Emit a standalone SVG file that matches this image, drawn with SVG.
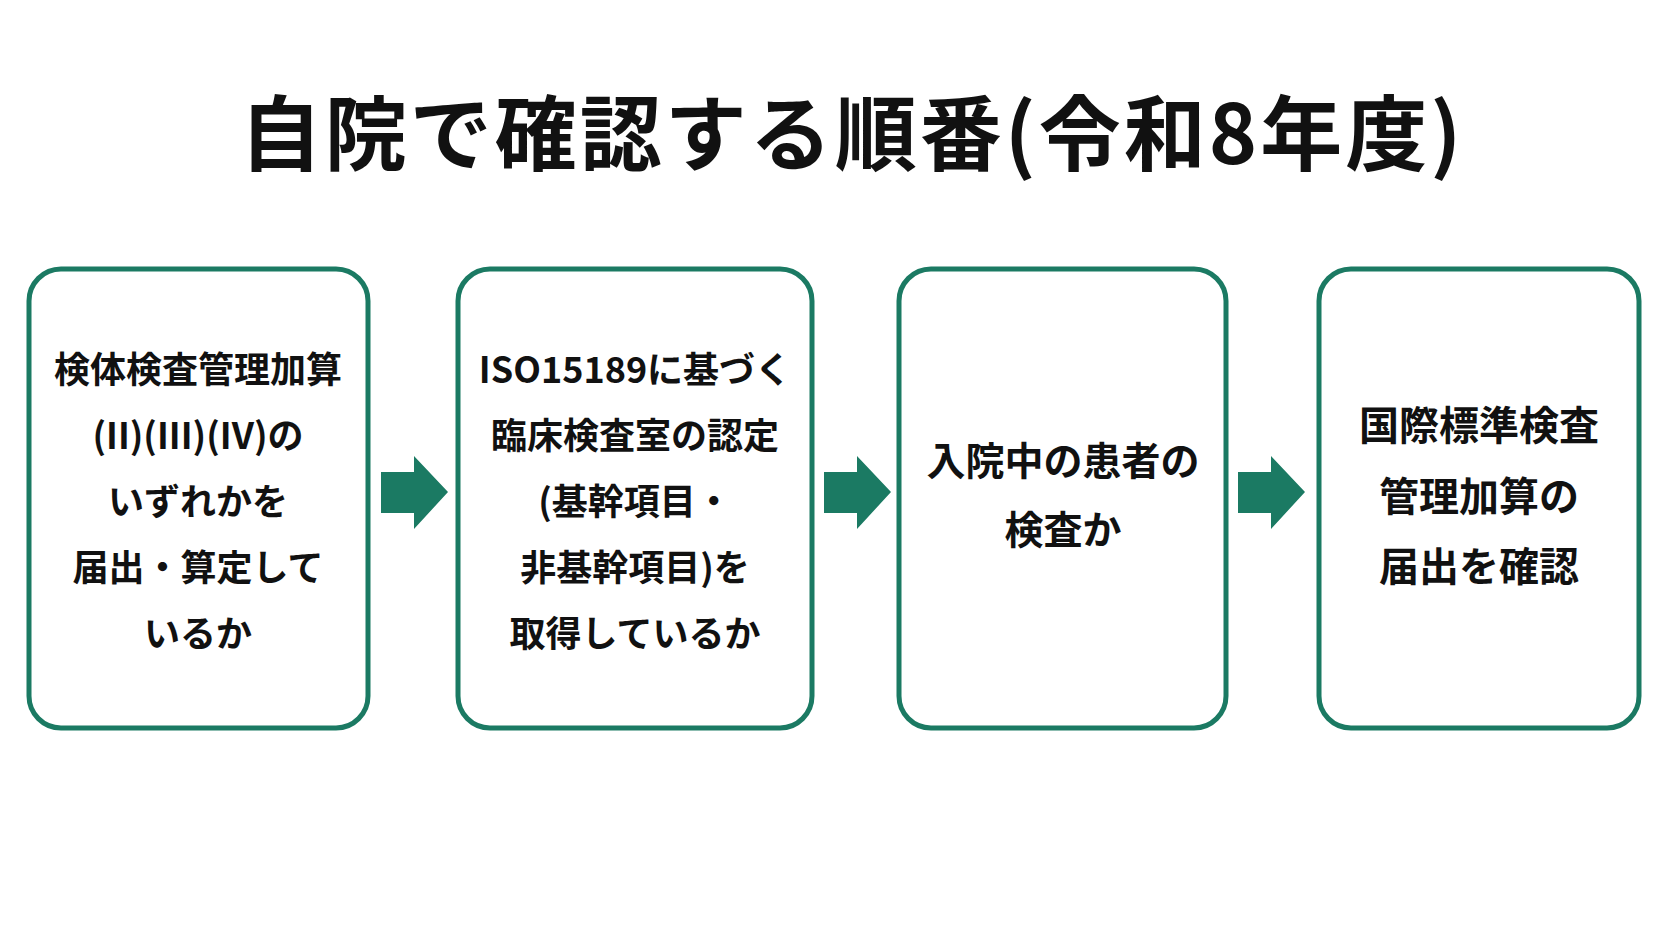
<svg xmlns="http://www.w3.org/2000/svg" width="1672" height="941" viewBox="0 0 1672 941">
<style>
.box{fill:#fff;stroke:#1b7a63;stroke-width:5}
.t{font-family:"Noto Sans CJK JP","Noto Sans",sans-serif;font-weight:700;fill:#111;text-anchor:middle}
.bt{font-size:36px}
.arr{fill:#1b7a63}
</style>
<rect width="1672" height="941" fill="#fff"/>
<text class="t" x="852" y="164" font-size="82" letter-spacing="3">自院で確認する順番(令和8年度)</text>
<g id="n1"><rect class="box" x="29" y="269" width="339" height="459" rx="32"/>
<g class="t bt"><text x="198" y="383">検体検査管理加算</text><text x="198" y="449">(II)(III)(IV)の</text><text x="198" y="515">いずれかを</text><text x="198" y="581">届出・算定して</text><text x="198" y="647">いるか</text></g></g>
<g id="n2"><rect class="box" x="458" y="269" width="354" height="459" rx="32"/>
<g class="t bt"><text x="635" y="383">ISO15189に基づく</text><text x="635" y="449">臨床検査室の認定</text><text x="635" y="515">(基幹項目・</text><text x="635" y="581">非基幹項目)を</text><text x="635" y="647">取得しているか</text></g></g>
<g id="n3"><rect class="box" x="899" y="269" width="327" height="459" rx="32"/>
<g class="t" font-size="39"><text x="1063" y="475">入院中の患者の</text><text x="1063" y="544">検査か</text></g></g>
<g id="n4"><rect class="box" x="1319" y="269" width="320" height="459" rx="32"/>
<g class="t" font-size="40"><text x="1479" y="440">国際標準検査</text><text x="1479" y="511">管理加算の</text><text x="1479" y="581">届出を確認</text></g></g>
<g id="connectors">
<polygon class="arr" points="381,472 414,472 414,456 448,492 414,529 414,513 381,513"/>
<polygon class="arr" points="824,472 857,472 857,456 891,492 857,529 857,513 824,513"/>
<polygon class="arr" points="1238,472 1271,472 1271,456 1305,492 1271,529 1271,513 1238,513"/>
</g>
</svg>
